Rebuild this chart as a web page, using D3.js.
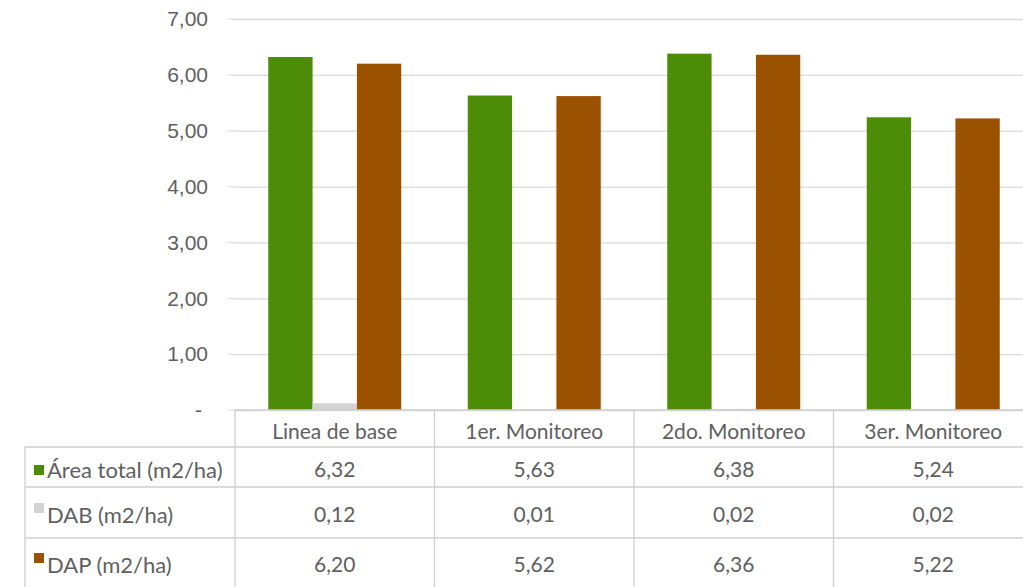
<!DOCTYPE html>
<html>
<head>
<meta charset="utf-8">
<script src="https://cdn.jsdelivr.net/npm/d3@7"></script>
<style>
  html, body { margin: 0; padding: 0; background: #ffffff; }
  svg { display: block; font-family: Lato, "Open Sans", sans-serif; }
</style>
</head>
<body>
<svg id="chart" width="1023" height="587"></svg>
<script>
// Monitoring periods (categories)
const categories = ["Linea de base", "1er. Monitoreo", "2do. Monitoreo", "3er. Monitoreo"];

// Series names and values (m2/ha)
const seriesNames = ["Área total (m2/ha)", "DAB (m2/ha)", "DAP (m2/ha)"];
const areaTotal = [6.32, 5.63, 6.38, 5.24];
const dab = [0.12, 0.01, 0.02, 0.02];
const dap = [6.20, 5.62, 6.36, 5.22];
const seriesValues = [areaTotal, dab, dap];
const seriesColors = ["#4c8c06", "#d3d3d3", "#9a5200"];

// Y axis ticks
const yTicks = [0, 1, 2, 3, 4, 5, 6, 7];

const svg = d3.select("#chart");
const W = 1023, H = 587;

const plotLeft = 235, plotRight = 1033;
const plotTop = 19, plotBottom = 410;

const y = d3.scaleLinear().domain([0, 7]).range([plotBottom, plotTop]);
const x0 = d3.scaleBand().domain(categories).range([plotLeft, plotRight]).paddingInner(0).paddingOuter(0);
const x1 = d3.scaleBand().domain(seriesNames).range([0, x0.bandwidth()]).paddingInner(0).paddingOuter(0.75);

const fmt = v => v.toFixed(2).replace(".", ",");
const textColor = "#606060";
const gridColor = "#d9d9d9";
const tableColor = "#cfcfcf";
const fontSize = "21px";

// Horizontal gridlines + labels via a left axis
const yAxis = d3.axisLeft(y)
  .tickValues(yTicks)
  .tickSize(-(W - plotLeft + 2))
  .tickPadding(25)
  .tickFormat(d => d === 0 ? "-" : fmt(d));

const gAxis = svg.append("g")
  .attr("transform", `translate(${plotLeft - 2},0)`)
  .call(yAxis);
gAxis.select(".domain").remove();
gAxis.selectAll(".tick line").attr("stroke", gridColor).attr("stroke-width", 1.3);
gAxis.selectAll(".tick text")
  .attr("fill", textColor)
  .style("font-size", "21px")
  .attr("dx", d => d === 0 ? -6 : 0);
// short tick marks to the left of the gridlines
svg.append("g").selectAll("line").data(yTicks).join("line")
  .attr("x1", 227).attr("x2", 233)
  .attr("y1", d => y(d)).attr("y2", d => y(d))
  .attr("stroke", "#e4e4e4").attr("stroke-width", 1.3);

// Bars
const groups = svg.append("g").selectAll("g")
  .data(categories)
  .join("g")
  .attr("transform", c => `translate(${x0(c)},0)`);

groups.selectAll("rect")
  .data((c, i) => seriesNames.map((s, k) => ({ s, k, v: seriesValues[k][i] })))
  .join("rect")
  .attr("x", d => x1(d.s))
  .attr("width", x1.bandwidth())
  .attr("y", d => y(d.v))
  .attr("height", d => plotBottom - y(d.v))
  .attr("fill", (d) => seriesColors[d.k]);

// Data table below the plot
const rowEdges = [410, 447, 487, 538, 590];
const tableLeft = 25;
const table = svg.append("g");

// horizontal lines
table.append("line")
  .attr("x1", plotLeft).attr("x2", W)
  .attr("y1", rowEdges[0]).attr("y2", rowEdges[0])
  .attr("stroke", tableColor).attr("stroke-width", 1.3);
table.selectAll("line.h").data(rowEdges.slice(1)).join("line")
  .attr("class", "h")
  .attr("x1", tableLeft).attr("x2", W)
  .attr("y1", d => d).attr("y2", d => d)
  .attr("stroke", tableColor).attr("stroke-width", 1.3);

// vertical lines
table.selectAll("line.v").data(categories).join("line")
  .attr("class", "v")
  .attr("x1", c => x0(c)).attr("x2", c => x0(c))
  .attr("y1", rowEdges[0]).attr("y2", H)
  .attr("stroke", tableColor).attr("stroke-width", 1.3);
table.append("line")
  .attr("x1", tableLeft).attr("x2", tableLeft)
  .attr("y1", rowEdges[1]).attr("y2", H)
  .attr("stroke", tableColor).attr("stroke-width", 1.3);

// header row
table.selectAll("text.hdr").data(categories).join("text")
  .attr("class", "hdr")
  .attr("x", c => x0(c) + x0.bandwidth() / 2)
  .attr("y", (rowEdges[0] + rowEdges[1]) / 2 + 3)
  .attr("dy", "0.35em")
  .attr("text-anchor", "middle")
  .attr("fill", textColor)
  .style("font-size", fontSize)
  .text(c => c);

// series rows
const rowTextY = [470, 515, 565];
seriesNames.forEach((s, k) => {
  const yc = rowTextY[k];
  const swatchY = k === 0 ? yc - 5 : yc - 12;
  table.append("rect")
    .attr("x", 34).attr("y", swatchY)
    .attr("width", 10).attr("height", 10)
    .attr("fill", seriesColors[k]);
  table.append("text")
    .attr("x", 47).attr("y", yc)
    .attr("dy", "0.35em")
    .attr("fill", textColor)
    .style("font-size", "22px")
    .text(s);
  table.selectAll(null).data(categories).join("text")
    .attr("x", c => x0(c) + x0.bandwidth() / 2)
    .attr("y", yc)
    .attr("dy", "0.35em")
    .attr("text-anchor", "middle")
    .attr("fill", textColor)
    .style("font-size", fontSize)
    .text((c, i) => fmt(seriesValues[k][i]));
});
</script>
</body>
</html>
